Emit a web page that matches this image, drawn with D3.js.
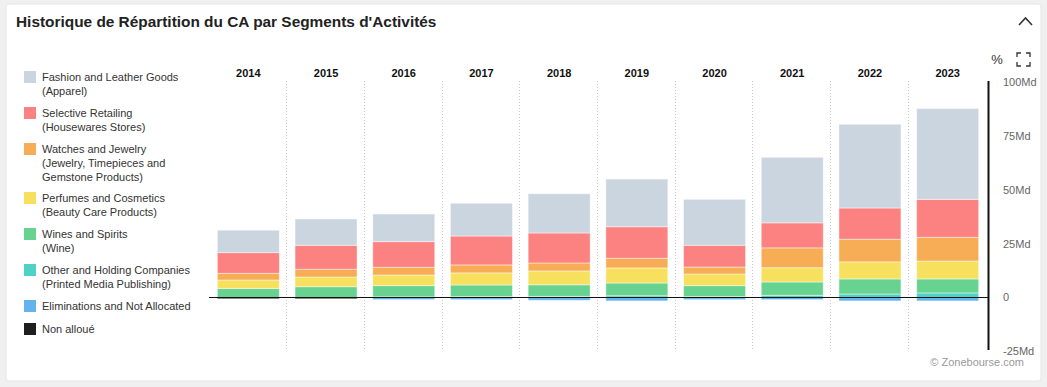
<!DOCTYPE html>
<html lang="fr">
<head>
  <meta charset="UTF-8">
  <title>Historique de Répartition du CA</title>
  <style>
    body { margin: 0; background: #f0f0f0; font-family: "Liberation Sans", Arial, sans-serif; }
    svg { display: block; }
    text { fill: #333; }
  </style>
</head>
<body>
  <svg width="1047" height="387"></svg>

  <script src="https://d3js.org/d3.v7.min.js"></script>
  <script>
    // données (Md EUR)
    const years = ["2014", "2015", "2016", "2017", "2018", "2019", "2020", "2021", "2022", "2023"];
    const fashion      = [10.4, 12.2, 12.8, 15.2, 18.2, 22.1, 21.3, 30.4, 38.8, 42.1];
    const selective    = [9.6, 11.1, 11.9, 13.4, 13.9, 14.6, 10.1, 11.6, 14.5, 17.6];
    const watches      = [3.1, 3.6, 3.6, 3.7, 3.7, 4.5, 3.2, 9.2, 10.5, 11.0];
    const perfumes     = [3.9, 4.5, 4.9, 5.6, 6.4, 7.0, 5.4, 6.6, 7.9, 8.3];
    const wines        = [4.2, 5.0, 5.2, 5.4, 5.4, 5.9, 5.1, 6.2, 7.0, 6.5];
    const other        = [0, 0, 0.3, 0.4, 0.5, 0.8, 0.4, 1.0, 1.6, 2.1];
    const eliminations = [0, 0, -1.0, -1.0, -1.3, -1.6, -1.0, -1.0, -1.6, -1.6];
    const nonAlloue    = [-0.6, -0.6, 0, 0, 0, 0, 0, 0, 0, 0];
    const axisTicks = [100, 75, 50, 25, 0, -25];

    // séries dans l'ordre de la légende
    const series = [
      { key: "fashion", values: fashion, color: "#cbd5e0", label: ["Fashion and Leather Goods", "(Apparel)"] },
      { key: "selective", values: selective, color: "#fc8181", label: ["Selective Retailing", "(Housewares Stores)"] },
      { key: "watches", values: watches, color: "#f6ad55", label: ["Watches and Jewelry", "(Jewelry, Timepieces and", "Gemstone Products)"] },
      { key: "perfumes", values: perfumes, color: "#f6e05e", label: ["Perfumes and Cosmetics", "(Beauty Care Products)"] },
      { key: "wines", values: wines, color: "#68d391", label: ["Wines and Spirits", "(Wine)"] },
      { key: "other", values: other, color: "#4fd1c5", label: ["Other and Holding Companies", "(Printed Media Publishing)"] },
      { key: "eliminations", values: eliminations, color: "#63b3ed", label: ["Eliminations and Not Allocated"] },
      { key: "nonAlloue", values: nonAlloue, color: "#1f1f1f", label: ["Non alloué"] }
    ];

    const rows = years.map((y, i) => {
      const r = { year: y };
      series.forEach(s => r[s.key] = s.values[i]);
      return r;
    });

    const svg = d3.select("svg");

    // carte
    svg.append("rect")
      .attr("x", 6).attr("y", 4).attr("width", 1035).attr("height", 377)
      .attr("rx", 3).attr("fill", "#fff").attr("stroke", "#e6e6e6");

    svg.append("text")
      .attr("x", 16).attr("y", 27)
      .attr("font-size", 15.4).attr("font-weight", "bold")
      .style("fill", "#222")
      .text("Historique de Répartition du CA par Segments d'Activités");

    // chevron
    svg.append("path")
      .attr("d", "M1019,25 L1025.5,18 L1032,25")
      .attr("fill", "none").attr("stroke", "#333").attr("stroke-width", 1.6);

    // icônes % et plein écran
    svg.append("text")
      .attr("x", 997).attr("y", 64).attr("text-anchor", "middle")
      .attr("font-size", 13).style("fill", "#333").text("%");
    svg.append("path")
      .attr("d", "M1017,57 v-4 h4 M1026,53 h4 v4 M1030,62 v4 h-4 M1021,66 h-4 v-4")
      .attr("fill", "none").attr("stroke", "#333").attr("stroke-width", 1.3);

    // échelles
    const x = d3.scaleBand().domain(years).range([209.5, 986.5]).paddingInner(0).paddingOuter(0);
    const y = d3.scaleLinear().domain([-25, 100]).range([351.4, 81.8]);
    const barW = 62;

    // séparateurs pointillés
    svg.append("g").selectAll("line")
      .data(years.slice(1))
      .join("line")
      .attr("x1", d => Math.round(x(d)) - 0.5)
      .attr("x2", d => Math.round(x(d)) - 0.5)
      .attr("y1", 81).attr("y2", 350)
      .attr("stroke", "#c8c8c8").attr("stroke-dasharray", "1,2");

    // années
    svg.append("g").selectAll("text")
      .data(years)
      .join("text")
      .attr("x", d => x(d) + x.bandwidth() / 2)
      .attr("y", 77)
      .attr("text-anchor", "middle")
      .attr("font-size", 11).attr("font-weight", "bold")
      .style("fill", "#111")
      .text(d => d);

    // empilement (du bas vers le haut)
    const keys = series.map(s => s.key).reverse();
    const stacked = d3.stack().keys(keys).offset(d3.stackOffsetDiverging)(rows);
    const colorOf = Object.fromEntries(series.map(s => [s.key, s.color]));

    svg.append("g").selectAll("g")
      .data(stacked)
      .join("g")
      .attr("fill", d => colorOf[d.key])
      .selectAll("rect")
      .data(d => d.filter(p => p[1] !== p[0]))
      .join("rect")
      .attr("x", d => x(d.data.year) + (x.bandwidth() - barW) / 2)
      .attr("width", barW)
      .attr("y", d => y(Math.max(d[0], d[1])))
      .attr("height", d => Math.abs(y(d[0]) - y(d[1])))
      .attr("stroke", "#fff").attr("stroke-opacity", 0.45).attr("stroke-width", 1);

    // ligne zéro
    svg.append("line")
      .attr("x1", 209).attr("x2", 988)
      .attr("y1", y(0)).attr("y2", y(0))
      .attr("stroke", "#111").attr("stroke-width", 1.2);

    // axe droit
    svg.append("line")
      .attr("x1", 988.5).attr("x2", 988.5)
      .attr("y1", 81).attr("y2", 350)
      .attr("stroke", "#111").attr("stroke-width", 2);

    svg.append("g").selectAll("text")
      .data(axisTicks)
      .join("text")
      .attr("x", 1003)
      .attr("y", d => y(d) + 4)
      .attr("font-size", 11)
      .style("fill", "#666")
      .text(d => d === 0 ? "0" : d + "Md");

    // légende
    const legend = svg.append("g");
    let ly = 71;
    series.forEach(s => {
      legend.append("rect")
        .attr("x", 24).attr("y", ly).attr("width", 12).attr("height", 12)
        .attr("fill", s.color);
      s.label.forEach((line, j) => {
        legend.append("text")
          .attr("x", 42).attr("y", ly + 10 + j * 14.2)
          .attr("font-size", 11)
          .text(line);
      });
      ly += s.label.length * 13 + 10;
    });

    // source
    svg.append("text")
      .attr("x", 1024).attr("y", 366)
      .attr("text-anchor", "end")
      .attr("font-size", 11)
      .style("fill", "#999")
      .text("© Zonebourse.com");
  </script>
</body>
</html>
